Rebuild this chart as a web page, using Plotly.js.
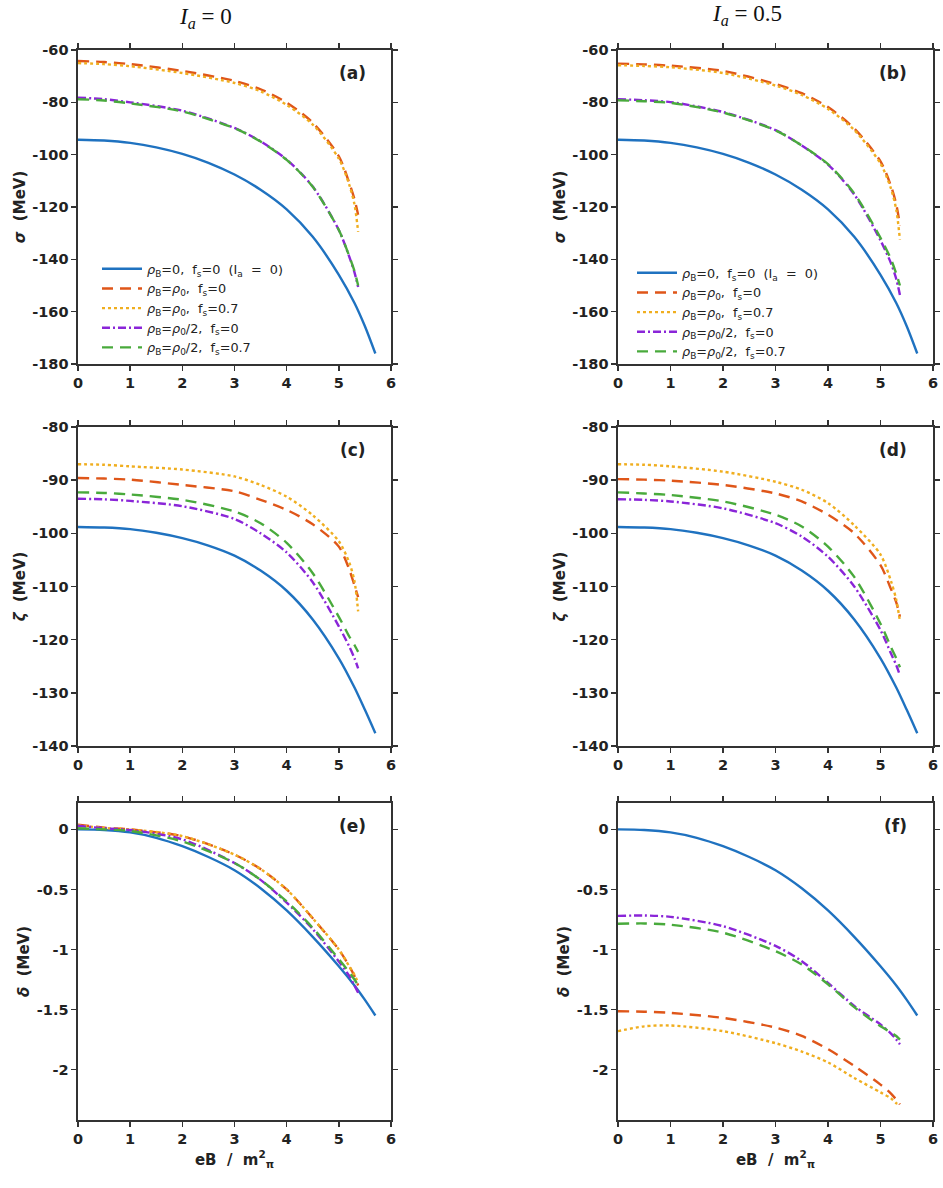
<!DOCTYPE html>
<html>
<head>
<meta charset="utf-8">
<script src="https://cdn.plot.ly/plotly-3.0.1.min.js"></script>
<style>
  html, body { margin: 0; padding: 0; background: #fff; }
  #chart { width: 943px; height: 1188px; }
</style>
</head>
<body>
<div id="chart"></div>
<script>
// Magnetic field grid (eB / m_pi^2)
const xVac = [0, 0.5, 1, 1.5, 2, 2.5, 3, 3.5, 4, 4.5, 5, 5.3, 5.5, 5.7];
const xMed = [0, 0.5, 1, 2, 3, 3.5, 4, 4.5, 5, 5.2, 5.3, 5.37];

// Vacuum curve (rho_B = 0, f_s = 0, I_a = 0)
const sigmaVac = [-94.3, -94.6, -95.5, -97.2, -99.7, -103.1, -107.6, -113.4, -120.9, -131.4, -145.9, -156.7, -165.6, -176];
const zetaVac  = [-98.8, -98.9, -99.2, -99.9, -100.9, -102.3, -104.2, -107.0, -110.8, -116.2, -123.5, -129.0, -133.2, -137.6];
const deltaVac = [0, -0.005, -0.025, -0.07, -0.14, -0.23, -0.34, -0.49, -0.675, -0.895, -1.14, -1.3, -1.42, -1.55];

// Panel (a): sigma, I_a = 0
const sigmaA_rho0_fs0   = [-64.2, -64.6, -65.4, -68.0, -71.8, -75.0, -80.1, -87.8, -100.6, -110.8, -117.0, -123.0];
const sigmaA_rho0_fs07  = [-65.0, -65.4, -66.2, -68.8, -72.6, -75.8, -81.0, -88.5, -101.5, -111.5, -119.0, -129.5];
const sigmaA_half_fs0   = [-78.2, -78.8, -80.0, -83.2, -89.8, -94.9, -101.9, -112.2, -128.8, -139.0, -145.0, -150.6];
const sigmaA_half_fs07  = [-78.8, -79.3, -80.4, -83.5, -89.9, -95.0, -102.0, -112.3, -128.8, -138.8, -144.5, -150.0];

// Panel (b): sigma, I_a = 0.5
const sigmaB_rho0_fs0   = [-65.2, -65.5, -66.0, -68.0, -73.0, -76.5, -81.8, -90.0, -102.6, -112.0, -119.0, -127.0];
const sigmaB_rho0_fs07  = [-65.8, -66.1, -66.6, -68.8, -73.6, -77.2, -82.5, -90.6, -103.4, -113.0, -121.0, -132.5];
const sigmaB_half_fs0   = [-78.8, -79.2, -79.9, -83.7, -90.6, -96.5, -103.8, -115.2, -132.8, -141.5, -147.5, -153.6];
const sigmaB_half_fs07  = [-79.2, -79.6, -80.2, -83.9, -90.7, -96.5, -103.6, -114.8, -131.8, -140.0, -145.5, -150.0];

// Panel (c): zeta, I_a = 0
const zetaC_rho0_fs0    = [-89.6, -89.7, -89.9, -90.9, -92.1, -93.7, -95.6, -98.3, -102.5, -106.8, -109.8, -112.0];
const zetaC_rho0_fs07   = [-87.0, -87.1, -87.4, -88.0, -89.3, -90.9, -93.1, -96.6, -101.5, -105.5, -109.0, -114.7];
const zetaC_half_fs0    = [-93.5, -93.6, -93.9, -94.9, -97.3, -100.0, -103.6, -109.2, -117.5, -121.3, -123.5, -125.4];
const zetaC_half_fs07   = [-92.3, -92.4, -92.7, -93.7, -95.9, -98.1, -101.8, -107.5, -115.7, -119.4, -121.0, -122.3];

// Panel (d): zeta, I_a = 0.5
const zetaD_rho0_fs0    = [-89.8, -89.9, -90.1, -90.9, -92.5, -94.0, -96.5, -100.0, -106.0, -110.5, -113.0, -115.7];
const zetaD_rho0_fs07   = [-87.0, -87.1, -87.4, -88.4, -90.3, -91.8, -94.3, -98.5, -104.0, -109.0, -112.5, -116.5];
const zetaD_half_fs0    = [-93.6, -93.7, -94.0, -95.3, -98.1, -100.6, -104.4, -110.0, -118.2, -122.6, -124.8, -126.7];
const zetaD_half_fs07   = [-92.3, -92.5, -92.8, -94.0, -96.5, -98.7, -102.5, -108.2, -117.0, -121.4, -123.5, -125.2];

// Panel (e): delta, I_a = 0
const deltaE_rho0_fs0   = [0.04, 0.015, 0.0, -0.056, -0.21, -0.33, -0.5, -0.74, -1.0, -1.14, -1.22, -1.3];
const deltaE_rho0_fs07  = [0.035, 0.012, 0.0, -0.056, -0.21, -0.33, -0.5, -0.74, -1.0, -1.14, -1.21, -1.28];
const deltaE_half_fs0   = [0.03, 0.01, -0.005, -0.083, -0.28, -0.42, -0.61, -0.83, -1.1, -1.22, -1.3, -1.36];
const deltaE_half_fs07  = [0.01, 0.0, -0.014, -0.1, -0.28, -0.42, -0.6, -0.82, -1.08, -1.19, -1.25, -1.3];

// Panel (f): delta, I_a = 0.5
const deltaF_rho0_fs0   = [-1.514, -1.518, -1.528, -1.57, -1.65, -1.72, -1.83, -1.97, -2.125, -2.2, -2.25, -2.29];
const deltaF_rho0_fs07  = [-1.68, -1.64, -1.633, -1.68, -1.78, -1.85, -1.94, -2.07, -2.19, -2.24, -2.28, -2.29];
const deltaF_half_fs0   = [-0.72, -0.717, -0.728, -0.806, -0.97, -1.097, -1.278, -1.47, -1.625, -1.7, -1.75, -1.79];
const deltaF_half_fs07  = [-0.786, -0.783, -0.794, -0.86, -1.014, -1.125, -1.29, -1.48, -1.64, -1.69, -1.72, -1.75];

// Tick labels
const xTickVals = [0, 1, 2, 3, 4, 5, 6];
const xTickText = ['0', '1', '2', '3', '4', '5', '6'];
const sigmaTickVals = [-60, -80, -100, -120, -140, -160, -180];
const sigmaTickText = ['-60', '-80', '-100', '-120', '-140', '-160', '-180'];
const zetaTickVals = [-80, -90, -100, -110, -120, -130, -140];
const zetaTickText = ['-80', '-90', '-100', '-110', '-120', '-130', '-140'];
const deltaTickVals = [0, -0.5, -1, -1.5, -2];
const deltaTickText = ['0', '-0.5', '-1', '-1.5', '-2'];

// Series names
const seriesNames = [
  '<i>ρ</i><sub>B</sub>=0,\u00a0 f<sub>s</sub>=0\u00a0 (I<sub>a</sub>\u00a0 =\u00a0 0)',
  '<i>ρ</i><sub>B</sub>=<i>ρ</i><sub>0</sub>,\u00a0 f<sub>s</sub>=0',
  '<i>ρ</i><sub>B</sub>=<i>ρ</i><sub>0</sub>,\u00a0 f<sub>s</sub>=0.7',
  '<i>ρ</i><sub>B</sub>=<i>ρ</i><sub>0</sub>/2,\u00a0 f<sub>s</sub>=0',
  '<i>ρ</i><sub>B</sub>=<i>ρ</i><sub>0</sub>/2,\u00a0 f<sub>s</sub>=0.7'
];

const COLORS = ['#1f72c0', '#df5619', '#f0ae1f', '#8a25d8', '#49aa3c'];
const DASHES = ['solid', '11px,7px', '3px,3px', '8px,3px,2px,3px', '11px,7px'];
const LW = 2.4;

function series(ax, ay, yVac, ys, legendId) {
  const out = [];
  out.push({
    x: xVac, y: yVac, xaxis: ax, yaxis: ay, type: 'scatter', mode: 'lines',
    name: seriesNames[0], showlegend: !!legendId, legend: legendId || 'legend',
    line: { color: COLORS[0], width: LW, dash: DASHES[0], shape: 'spline', smoothing: 0.8 }
  });
  ys.forEach((y, i) => {
    out.push({
      x: xMed, y: y, xaxis: ax, yaxis: ay, type: 'scatter', mode: 'lines',
      name: seriesNames[i + 1], showlegend: !!legendId, legend: legendId || 'legend',
      line: { color: COLORS[i + 1], width: LW, dash: DASHES[i + 1], shape: 'spline', smoothing: 0.8 }
    });
  });
  return out;
}

const data = [].concat(
  series('x', 'y', sigmaVac, [sigmaA_rho0_fs0, sigmaA_rho0_fs07, sigmaA_half_fs0, sigmaA_half_fs07], 'legend'),
  series('x2', 'y2', sigmaVac, [sigmaB_rho0_fs0, sigmaB_rho0_fs07, sigmaB_half_fs0, sigmaB_half_fs07], 'legend2'),
  series('x3', 'y3', zetaVac, [zetaC_rho0_fs0, zetaC_rho0_fs07, zetaC_half_fs0, zetaC_half_fs07]),
  series('x4', 'y4', zetaVac, [zetaD_rho0_fs0, zetaD_rho0_fs07, zetaD_half_fs0, zetaD_half_fs07]),
  series('x5', 'y5', deltaVac, [deltaE_rho0_fs0, deltaE_rho0_fs07, deltaE_half_fs0, deltaE_half_fs07]),
  series('x6', 'y6', deltaVac, [deltaF_rho0_fs0, deltaF_rho0_fs07, deltaF_half_fs0, deltaF_half_fs07])
);

const W = 943, H = 1188;
const colL = [78 / W, 391 / W];
const colR = [618 / W, 933 / W];
const rowPx = [[50, 364], [427, 746], [803, 1120]];
const rows = rowPx.map(r => [1 - r[1] / H, 1 - r[0] / H]);

const SANS = 'DejaVu Sans, Liberation Sans, Arial, sans-serif';
const tickFont = { family: SANS, size: 14.5, color: '#222', weight: 'bold' };
const axisTitleFont = { family: SANS, size: 15, color: '#222', weight: 'bold' };

function xAxis(domain, anchor, withTitle) {
  const ax = {
    domain: domain, anchor: anchor, range: [0, 6],
    tickvals: xTickVals, ticktext: xTickText,
    ticks: 'outside', ticklen: 5, tickwidth: 1.4, tickcolor: '#333',
    showline: true, linecolor: '#333', linewidth: 1.6, mirror: 'ticks',
    showgrid: false, zeroline: false, tickfont: tickFont, automargin: false
  };
  if (withTitle) {
    ax.title = { text: 'eB\u00a0 /\u00a0 m<sup>2</sup><sub>π</sub>', font: axisTitleFont, standoff: 8 };
  }
  return ax;
}

function yAxis(domain, anchor, range, vals, text, title) {
  return {
    domain: domain, anchor: anchor, range: range,
    tickvals: vals, ticktext: text,
    ticks: 'outside', ticklen: 5, tickwidth: 1.4, tickcolor: '#333',
    showline: true, linecolor: '#333', linewidth: 1.6, mirror: 'ticks',
    showgrid: false, zeroline: false, tickfont: tickFont, automargin: false,
    title: { text: title, font: axisTitleFont, standoff: 3 }
  };
}

const sigmaTitle = '<i>σ</i>\u00a0 (MeV)';
const zetaTitle = '<i>ζ</i>\u00a0 (MeV)';
const deltaTitle = '<i>δ</i>\u00a0 (MeV)';

const legendStyle = (x, y) => ({
  x: x, y: y, xanchor: 'left', yanchor: 'top', xref: 'paper', yref: 'paper',
  bgcolor: 'rgba(0,0,0,0)', borderwidth: 0,
  font: { family: SANS, size: 12.8, color: '#222' },
  itemwidth: 40, tracegroupgap: 0
});

function panelLabel(text, xr, yr) {
  return {
    text: text, xref: xr + ' domain', yref: yr + ' domain', x: 0.925, y: 0.965,
    xanchor: 'right', yanchor: 'top', showarrow: false,
    font: { family: SANS, size: 17, color: '#222', weight: 'bold' }
  };
}

const colTitleFont = { family: 'Liberation Serif, DejaVu Serif, serif', size: 23, color: '#111' };

const layout = {
  width: W, height: H,
  margin: { l: 0, r: 0, t: 0, b: 0 },
  paper_bgcolor: '#fff', plot_bgcolor: '#fff',
  font: { family: SANS, color: '#222' },
  showlegend: true,
  legend: legendStyle(97 / W, 1 - 254 / H),
  legend2: legendStyle(632 / W, 1 - 258 / H),
  xaxis:  xAxis(colL, 'y', false),
  xaxis2: xAxis(colR, 'y2', false),
  xaxis3: xAxis(colL, 'y3', false),
  xaxis4: xAxis(colR, 'y4', false),
  xaxis5: xAxis(colL, 'y5', true),
  xaxis6: xAxis(colR, 'y6', true),
  yaxis:  yAxis(rows[0], 'x',  [-180, -60], sigmaTickVals, sigmaTickText, sigmaTitle),
  yaxis2: yAxis(rows[0], 'x2', [-180, -60], sigmaTickVals, sigmaTickText, sigmaTitle),
  yaxis3: yAxis(rows[1], 'x3', [-140, -80], zetaTickVals, zetaTickText, zetaTitle),
  yaxis4: yAxis(rows[1], 'x4', [-140, -80], zetaTickVals, zetaTickText, zetaTitle),
  yaxis5: yAxis(rows[2], 'x5', [-2.42, 0.22], deltaTickVals, deltaTickText, deltaTitle),
  yaxis6: yAxis(rows[2], 'x6', [-2.42, 0.22], deltaTickVals, deltaTickText, deltaTitle),
  annotations: [
    panelLabel('(a)', 'x', 'y'),
    panelLabel('(b)', 'x2', 'y2'),
    panelLabel('(c)', 'x3', 'y3'),
    panelLabel('(d)', 'x4', 'y4'),
    panelLabel('(e)', 'x5', 'y5'),
    panelLabel('(f)', 'x6', 'y6'),
    { text: '<i>I<sub>a</sub></i>\u00a0=\u00a00', xref: 'paper', yref: 'paper', x: 205 / W, y: 1 - 18 / H,
      xanchor: 'center', yanchor: 'middle', showarrow: false, font: colTitleFont },
    { text: '<i>I<sub>a</sub></i>\u00a0=\u00a00.5', xref: 'paper', yref: 'paper', x: 747 / W, y: 1 - 15 / H,
      xanchor: 'center', yanchor: 'middle', showarrow: false, font: colTitleFont }
  ]
};

Plotly.newPlot('chart', data, layout, { displayModeBar: false, staticPlot: true });
</script>
</body>
</html>
